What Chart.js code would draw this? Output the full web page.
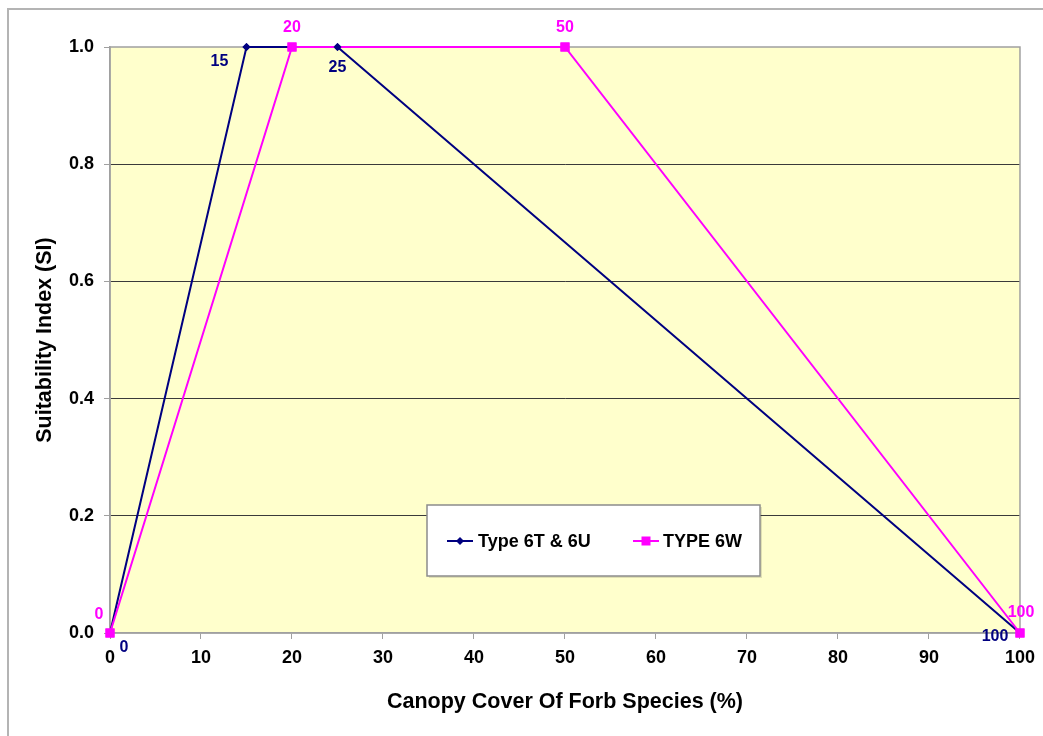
<!DOCTYPE html>
<html>
<head>
<meta charset="utf-8">
<script src="https://cdn.jsdelivr.net/npm/chart.js@4.4.1/dist/chart.umd.min.js"></script>
<style>
  html, body { margin: 0; padding: 0; background: #fff; }
  #wrap { width: 1043px; height: 736px; }
</style>
</head>
<body>
<div id="wrap"><canvas id="chart" width="1043" height="736"></canvas></div>
<script>
// ── Data ─────────────────────────────────────────────────────────────────────
const coverT = [0, 15, 25, 100];   // Type 6T & 6U
const siT    = [0, 1, 1, 0];
const coverW = [0, 20, 50, 100];   // TYPE 6W
const siW    = [0, 1, 1, 0];

const xMin = 0, xMax = 100, xStep = 10;
const yMin = 0, yMax = 1,   yStep = 0.2;

const NAVY = "#000080";
const MAGENTA = "#FF00FF";
const FONT = "'Liberation Sans', Arial, sans-serif";

Chart.defaults.font.family = FONT;
Chart.defaults.color = "#000";

// ── Plot background, outer frame and plot border ─────────────────────────────
const framePlugin = {
  id: "frame",
  beforeDraw(chart) {
    const { ctx, chartArea: a } = chart;
    ctx.save();
    ctx.fillStyle = "#fff";
    ctx.fillRect(0, 0, chart.width, chart.height);
    ctx.strokeStyle = "#b4b4b4";
    ctx.lineWidth = 2;
    ctx.beginPath();
    ctx.moveTo(8, chart.height);
    ctx.lineTo(8, 9);
    ctx.lineTo(chart.width, 9);
    ctx.stroke();
    ctx.fillStyle = "#FFFFCC";
    ctx.fillRect(a.left, a.top, a.right - a.left, a.bottom - a.top);
    ctx.restore();
  },
  beforeDatasetsDraw(chart) {
    const { ctx, chartArea: a } = chart;
    ctx.save();
    ctx.strokeStyle = "#a0a0a0";
    ctx.lineWidth = 1.5;
    ctx.strokeRect(a.left, a.top, a.right - a.left, a.bottom - a.top);
    ctx.restore();
  }
};

// ── Value labels next to each point (markers redrawn above both lines) ──────
const labelOffsets = [
  [[14, 15], [-27, 15], [0, 21], [-25, 4]],
  [[-11, -18], [0, -19], [0, -19], [1, -20]]
];

const valueLabels = {
  id: "valueLabels",
  afterDatasetsDraw(chart) {
    const { ctx } = chart;
    [0, 1].forEach(i => chart.getDatasetMeta(i).data.forEach(p => p.draw(ctx, chart.chartArea)));
    ctx.save();
    ctx.font = "bold 16px " + FONT;
    ctx.textAlign = "center";
    ctx.textBaseline = "middle";
    chart.data.datasets.forEach((ds, i) => {
      ctx.fillStyle = ds.borderColor;
      chart.getDatasetMeta(i).data.forEach((pt, j) => {
        const [dx, dy] = labelOffsets[i][j];
        ctx.fillText(String(ds.data[j].x), pt.x + dx, pt.y + dy);
      });
    });
    ctx.restore();
  }
};

// ── Legend box inside the plot ───────────────────────────────────────────────
function marker(ctx, style, x, y, color) {
  ctx.fillStyle = color;
  ctx.beginPath();
  if (style === "rect") {
    ctx.rect(x - 4.5, y - 4.5, 9, 9);
  } else {
    ctx.moveTo(x, y - 4); ctx.lineTo(x + 4, y); ctx.lineTo(x, y + 4); ctx.lineTo(x - 4, y);
    ctx.closePath();
  }
  ctx.fill();
}

const boxLegend = {
  id: "boxLegend",
  afterDraw(chart) {
    const { ctx } = chart;
    const bx = 427, by = 505, bw = 333, bh = 71, ly = 541;
    const items = [[447, 478], [633, 663]];
    ctx.save();
    ctx.fillStyle = "rgba(0,0,0,0.12)";
    ctx.fillRect(bx + 2, by + 2, bw, bh);
    ctx.fillStyle = "#fff";
    ctx.fillRect(bx, by, bw, bh);
    ctx.strokeStyle = "#8c8c8c";
    ctx.lineWidth = 1.5;
    ctx.strokeRect(bx, by, bw, bh);
    ctx.font = "bold 18px " + FONT;
    ctx.textBaseline = "middle";
    chart.data.datasets.forEach((ds, i) => {
      const [lx, tx] = items[i];
      ctx.strokeStyle = ds.borderColor;
      ctx.lineWidth = 2;
      ctx.beginPath();
      ctx.moveTo(lx, ly);
      ctx.lineTo(lx + 26, ly);
      ctx.stroke();
      marker(ctx, ds.pointStyle, lx + 13, ly, ds.borderColor);
      ctx.fillStyle = "#000";
      ctx.fillText(ds.label, tx, ly + 1);
    });
    ctx.restore();
  }
};

// ── Chart ────────────────────────────────────────────────────────────────────
new Chart(document.getElementById("chart"), {
  type: "line",
  data: {
    datasets: [
      {
        label: "Type 6T & 6U",
        data: coverT.map((x, i) => ({ x, y: siT[i] })),
        borderColor: NAVY,
        backgroundColor: NAVY,
        borderWidth: 2,
        pointStyle: "rectRot",
        pointRadius: 4,
        pointBorderWidth: 0,
        tension: 0,
        clip: false,
        order: 1
      },
      {
        label: "TYPE 6W",
        data: coverW.map((x, i) => ({ x, y: siW[i] })),
        borderColor: MAGENTA,
        backgroundColor: MAGENTA,
        borderWidth: 2,
        pointStyle: "rect",
        pointRadius: 6.4,
        pointBorderWidth: 0,
        tension: 0,
        clip: false,
        order: 0
      }
    ]
  },
  options: {
    responsive: false,
    devicePixelRatio: 1,
    animation: false,
    layout: { padding: { left: 8, right: 22, top: 47, bottom: 10 } },
    plugins: {
      legend: { display: false },
      tooltip: { enabled: false }
    },
    scales: {
      x: {
        type: "linear",
        min: xMin, max: xMax,
        afterFit: s => { s.height = 93; },
        border: { color: "#a0a0a0", width: 1.5 },
        grid: { drawOnChartArea: false, drawTicks: true, tickLength: 6, tickColor: "#a0a0a0" },
        ticks: { stepSize: xStep, padding: 8, font: { size: 18, weight: "bold" }, color: "#000", maxRotation: 0 },
        title: {
          display: true,
          text: "Canopy Cover Of Forb Species (%)",
          font: { size: 21.5, weight: "bold" },
          color: "#000",
          padding: { top: 0, bottom: 11 }
        }
      },
      y: {
        min: yMin, max: yMax,
        afterFit: s => { s.width = 102; },
        border: { color: "#a0a0a0", width: 1.5 },
        grid: {
          color: ctx => (ctx.tick.value > yMin && ctx.tick.value < yMax) ? "#3a3a3a" : "rgba(0,0,0,0)",
          tickColor: "#a0a0a0",
          tickLength: 6,
          lineWidth: 1
        },
        ticks: {
          stepSize: yStep,
          padding: 10,
          font: { size: 18, weight: "bold" },
          color: "#000",
          callback: v => Number(v).toFixed(1)
        },
        title: {
          display: true,
          text: "Suitability Index (SI)",
          font: { size: 21.5, weight: "bold" },
          color: "#000",
          padding: { top: 24, bottom: 0 }
        }
      }
    }
  },
  plugins: [framePlugin, valueLabels, boxLegend]
});
</script>
</body>
</html>
